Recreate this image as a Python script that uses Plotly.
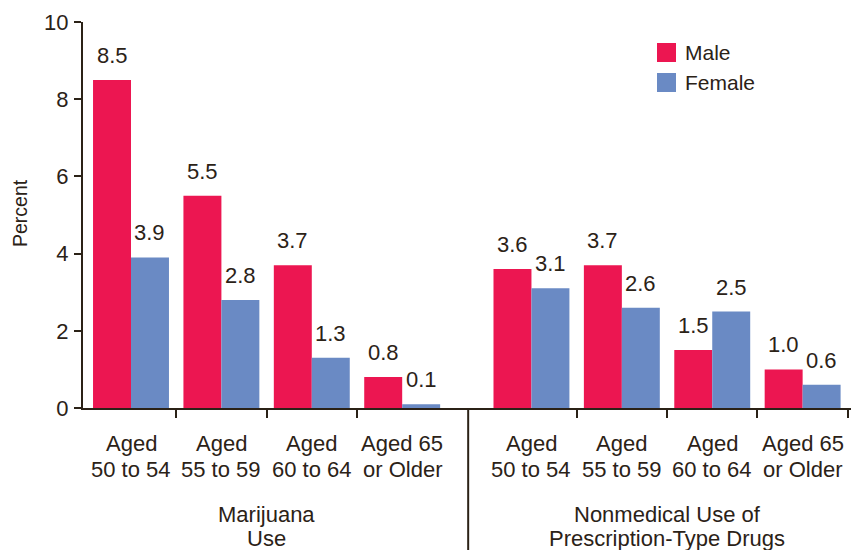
import plotly.graph_objects as go

# Age bands shown under each pair of bars (two text lines each)
age_line1 = ["Aged", "Aged", "Aged", "Aged 65"]
age_line2 = ["50 to 54", "55 to 59", "60 to 64", "or Older"]

# Substance groups (two text lines each)
group_line1 = ["Marijuana", "Nonmedical Use of"]
group_line2 = ["Use", "Prescription-Type Drugs"]

# Percent using, by sex
male_marijuana = [8.5, 5.5, 3.7, 0.8]
female_marijuana = [3.9, 2.8, 1.3, 0.1]
male_rx = [3.6, 3.7, 1.5, 1.0]
female_rx = [3.1, 2.6, 2.5, 0.6]

y_ticks = [0, 2, 4, 6, 8, 10]

MALE_COLOR = "#EC1651"
FEMALE_COLOR = "#6A8AC4"
INK = "#2B2217"
FONT = "Liberation Sans, Arial, Helvetica, sans-serif"
TEXT_SIZE = 22

# Layout of the numeric category axis: two blocks of four age bands
GROUP_OFFSET = 4.43
BAR_W = 0.42
left_pos = [float(i) for i in range(4)]
right_pos = [GROUP_OFFSET + i for i in range(4)]
positions = left_pos + right_pos

male_vals = male_marijuana + male_rx
female_vals = female_marijuana + female_rx

fig = go.Figure()
fig.add_trace(go.Bar(
    x=positions, y=male_vals, name="Male",
    width=BAR_W, offset=-BAR_W,
    marker=dict(color=MALE_COLOR, line=dict(width=0)),
    showlegend=False, hoverinfo="skip",
))
fig.add_trace(go.Bar(
    x=positions, y=female_vals, name="Female",
    width=BAR_W, offset=0,
    marker=dict(color=FEMALE_COLOR, line=dict(width=0)),
    showlegend=False, hoverinfo="skip",
))

annotations = []

# Value labels above bars
for p, v in zip(positions, male_vals):
    annotations.append(dict(
        x=p - BAR_W / 2, y=v, xref="x", yref="y", text=f"{v:.1f}",
        showarrow=False, yanchor="bottom", yshift=10,
        font=dict(size=TEXT_SIZE, color=INK, family=FONT),
    ))
for p, v in zip(positions, female_vals):
    annotations.append(dict(
        x=p + BAR_W / 2, y=v, xref="x", yref="y", text=f"{v:.1f}",
        showarrow=False, yanchor="bottom", yshift=10,
        font=dict(size=TEXT_SIZE, color=INK, family=FONT),
    ))

# Plot area geometry (pixels) used to place text below the axis
PLOT_TOP, PLOT_BOTTOM = 22, 408
PLOT_H = PLOT_BOTTOM - PLOT_TOP


def py_to_paper(py):
    return (PLOT_BOTTOM - py) / PLOT_H


# Age-band labels
for block in (left_pos, right_pos):
    for p, l1, l2 in zip(block, age_line1, age_line2):
        annotations.append(dict(
            x=p, y=py_to_paper(444), xref="x", yref="paper", text=l1,
            showarrow=False, yanchor="middle",
            font=dict(size=TEXT_SIZE, color=INK, family=FONT),
        ))
        annotations.append(dict(
            x=p, y=py_to_paper(469), xref="x", yref="paper", text=l2,
            showarrow=False, yanchor="middle",
            font=dict(size=TEXT_SIZE, color=INK, family=FONT),
        ))

# Group titles
group_centers = [(left_pos[0] + left_pos[-1]) / 2, (right_pos[0] + right_pos[-1]) / 2]
for c, l1, l2 in zip(group_centers, group_line1, group_line2):
    annotations.append(dict(
        x=c, y=py_to_paper(514), xref="x", yref="paper", text=l1,
        showarrow=False, yanchor="middle",
        font=dict(size=TEXT_SIZE, color=INK, family=FONT),
    ))
    annotations.append(dict(
        x=c, y=py_to_paper(538), xref="x", yref="paper", text=l2,
        showarrow=False, yanchor="middle",
        font=dict(size=TEXT_SIZE, color=INK, family=FONT),
    ))

# Y-axis title
annotations.append(dict(
    x=-0.082, y=py_to_paper(213), xref="paper", yref="paper", text="Percent",
    textangle=-90, showarrow=False, xanchor="center", yanchor="middle",
    font=dict(size=19.5, color=INK, family=FONT),
))

# Legend (swatches + labels)
PLOT_LEFT, PLOT_W = 83, 768


def px_to_paper(px):
    return (px - PLOT_LEFT) / PLOT_W


shapes = []
for name, color, top in (("Male", MALE_COLOR, 43), ("Female", FEMALE_COLOR, 73)):
    shapes.append(dict(
        type="rect", xref="paper", yref="paper",
        x0=px_to_paper(657), x1=px_to_paper(676),
        y0=py_to_paper(top + 19), y1=py_to_paper(top),
        fillcolor=color, line=dict(width=0),
    ))
    annotations.append(dict(
        x=px_to_paper(683), y=py_to_paper(top + 9.5), xref="paper", yref="paper",
        text=name, showarrow=False, xanchor="left", yanchor="middle",
        font=dict(size=21, color=INK, family=FONT),
    ))

# Divider between the two substance groups
divider_x = (left_pos[-1] + right_pos[0]) / 2 + 0.015
shapes.append(dict(
    type="line", xref="x", yref="paper",
    x0=divider_x, x1=divider_x, y0=0, y1=py_to_paper(552),
    line=dict(color=INK, width=2),
))

boundary_ticks = [p + 0.5 for p in left_pos[:-1]] + [p + 0.5 for p in right_pos]

fig.update_layout(
    width=851, height=550,
    margin=dict(l=PLOT_LEFT, r=0, t=PLOT_TOP, b=550 - PLOT_BOTTOM, pad=0),
    paper_bgcolor="white", plot_bgcolor="white",
    barmode="overlay",
    font=dict(family=FONT, color=INK),
    xaxis=dict(
        range=[-0.531, 7.965], showgrid=False, zeroline=False,
        showline=True, linecolor=INK, linewidth=2,
        tickmode="array", tickvals=boundary_ticks, showticklabels=False,
        ticks="outside", ticklen=8, tickwidth=2, tickcolor=INK,
        fixedrange=True,
    ),
    yaxis=dict(
        range=[0, 10], showgrid=False, zeroline=False,
        showline=True, linecolor=INK, linewidth=2,
        tickmode="array", tickvals=y_ticks,
        ticks="outside", ticklen=7, tickwidth=2, tickcolor=INK,
        tickfont=dict(size=TEXT_SIZE, color=INK, family=FONT),
        ticklabelstandoff=1,
        fixedrange=True,
    ),
    annotations=annotations,
    shapes=shapes,
)

fig.write_html("out.html")
